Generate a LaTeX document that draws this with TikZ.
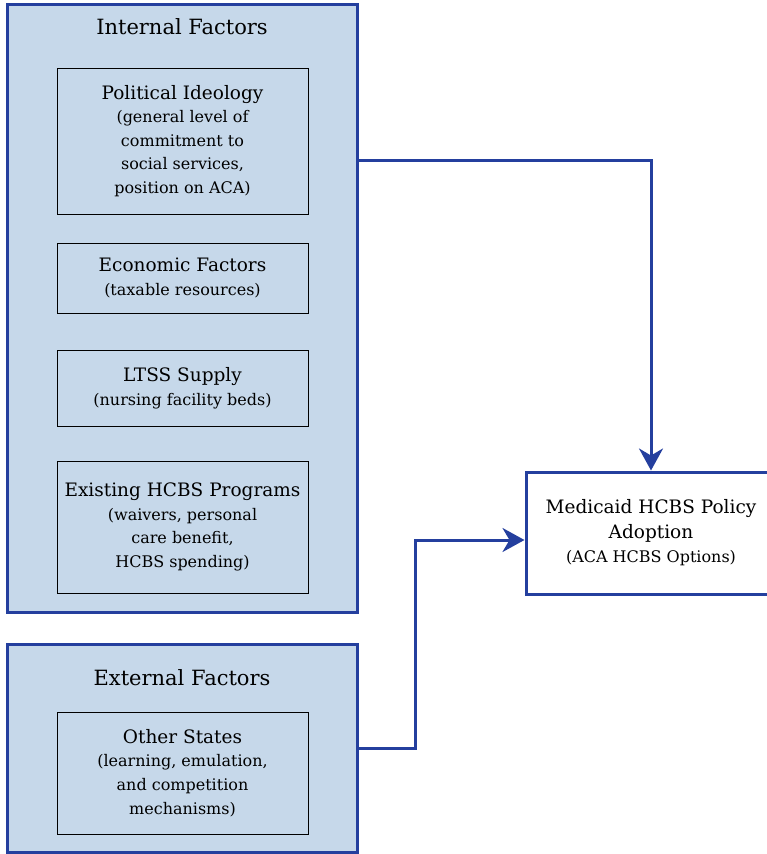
\documentclass[tikz,border=0pt]{standalone}
\usepackage{fontspec}
\setmainfont{DejaVu Serif}
\usetikzlibrary{arrows.meta,positioning}
\definecolor{boxblue}{HTML}{C6D8EA}
\definecolor{lineblue}{HTML}{243F9E}
\newcommand\subsz{\fontsize{16pt}{23.6pt}\selectfont}
\newcommand\tgtsub{\fontsize{16pt}{24.5pt}\selectfont}
\tikzset{
  outerbox/.style={draw=lineblue, line width=3pt, fill=boxblue, minimum width=350pt, inner sep=0pt},
  innerbox/.style={draw=black, line width=0.9pt, fill=boxblue, minimum width=251pt, align=center, inner sep=0pt, font=\fontsize{18.5pt}{23.6pt}\selectfont},
  targetbox/.style={draw=lineblue, line width=3pt, fill=white, minimum width=250pt, minimum height=122pt, align=center, inner sep=0pt, font=\fontsize{18.5pt}{24.5pt}\selectfont},
  titletext/.style={font=\fontsize{21pt}{24pt}\selectfont, inner sep=0pt},
  flow/.style={draw=lineblue, line width=3pt, -{Stealth[length=22pt,width=24pt,inset=7pt]}},
}
\begin{document}
\begin{tikzpicture}[x=1pt,y=-1pt]
\useasboundingbox (0,0) rectangle (767,854);
% outer boxes
\node[outerbox, minimum height=608pt] (internal) at (182,308) {};
\node[outerbox, minimum height=208pt] (external) at (182,748) {};
\node[titletext] (inttitle) at (182,27) {Internal Factors};
\node[titletext] (exttitle) at (182,678) {External Factors};
% inner boxes
\node[innerbox, minimum height=146pt] (pol) at (182.5,141) {Political Ideology\\{\subsz (general level of}\\{\subsz commitment to}\\{\subsz social services,}\\{\subsz position on ACA)}};
\node[innerbox, minimum height=70pt] (econ) at (182.5,278) {Economic Factors\\{\subsz (taxable resources)}};
\node[innerbox, minimum height=76pt] (ltss) at (182.5,388) {LTSS Supply\\{\subsz (nursing facility beds)}};
\node[innerbox, minimum height=132pt] (hcbs) at (182.5,527) {Existing HCBS Programs\\{\subsz (waivers, personal}\\{\subsz care benefit,}\\{\subsz HCBS spending)}};
\node[innerbox, minimum height=122pt] (other) at (182.5,773) {Other States\\{\subsz (learning, emulation,}\\{\subsz and competition}\\{\subsz mechanisms)}};
% target
\node[targetbox] (target) at (651,533) {Medicaid HCBS Policy\\Adoption\\{\tgtsub (ACA HCBS Options)}};
% connectors
\coordinate (p1) at (357,160);
\coordinate (p2) at (415,540);
\draw[flow] (internal.east |- p1) -| (target.north);
\draw[flow] (external.east) -| (p2) -- (target.west |- p2);
\end{tikzpicture}
\end{document}
